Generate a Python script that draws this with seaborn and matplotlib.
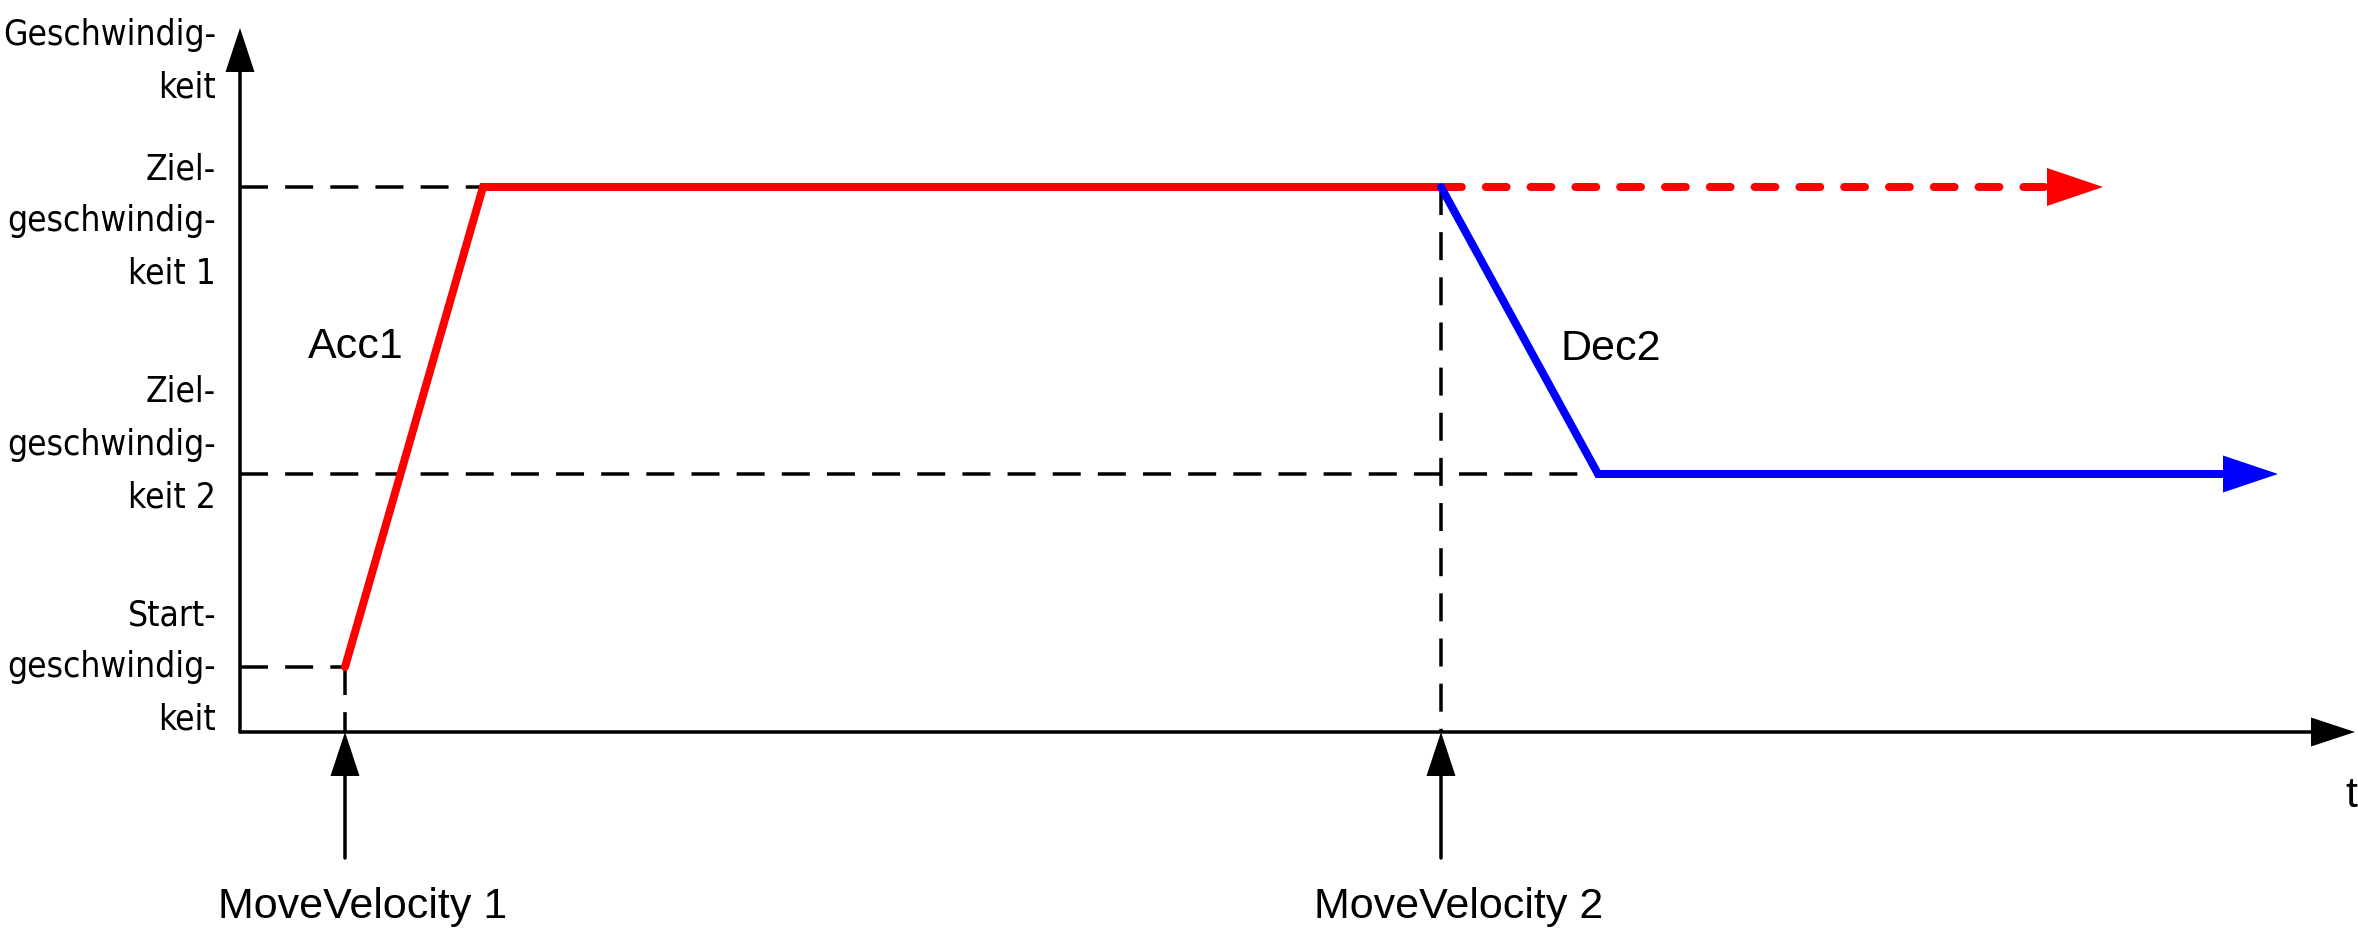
import matplotlib
matplotlib.use("Agg")
import matplotlib.pyplot as plt
import matplotlib.font_manager as fm
import seaborn as sns

# time points (t) and speed levels (v), 1 unit = 100 px
t_move1 = 1.05      # MoveVelocity 1
t_acc_end = 2.43    # target speed 1 reached
t_move2 = 12.01     # MoveVelocity 2
t_dec_end = 13.58   # target speed 2 reached
t_red_end = 18.63   # tip of dashed red arrow
t_blue_end = 20.38  # tip of blue arrow
t_axis_end = 21.15
v_start = 0.65
v_target1 = 5.45
v_target2 = 2.58
v_axis_end = 7.04

red_t = [t_move1, t_acc_end, t_move2]
red_v = [v_start, v_target1, v_target1]
blue_t = [t_move2, t_dec_end]
blue_v = [v_target1, v_target2]

level_labels = ["Geschwindig-\nkeit", "Ziel-\ngeschwindig-\nkeit 1",
                "Ziel-\ngeschwindig-\nkeit 2", "Start-\ngeschwindig-\nkeit"]
event_labels = ["MoveVelocity 1", "MoveVelocity 2"]
event_t = [t_move1, t_move2]
phase_labels = ["Acc1", "Dec2"]

# layout (in axis units)
label_first_baseline = [6.87, 5.53, 3.30, 1.07]
line_gap = 0.525

sns.set_theme(style="white")
plt.rcParams["font.family"] = ["Liberation Sans", "DejaVu Sans"]
plt.rcParams["text.color"] = "black"

# condensed face for the speed labels if one is installed
narrow_prop = None
for f in fm.fontManager.ttflist:
    if f.name == "Liberation Sans Narrow" and f.style == "normal" and f.weight in (400, "normal", "regular"):
        narrow_prop = fm.FontProperties(fname=f.fname)
        break
if narrow_prop is None:
    for f in fm.fontManager.ttflist:
        if f.stretch in ("condensed", "semi-condensed") and f.style == "normal" \
                and f.weight in (400, "normal", "regular") and "Mono" not in f.name \
                and f.name in ("Noto Sans", "Roboto", "Open Sans", "Inter", "DejaVu Sans"):
            narrow_prop = fm.FontProperties(fname=f.fname)
            break
if narrow_prop is None:
    narrow_prop = fm.FontProperties(family="Liberation Sans")

fig = plt.figure(figsize=(23.58, 9.33), dpi=100)
ax = fig.add_axes([0, 0, 1, 1])
ax.set_xlim(-2.40, 21.18)
ax.set_ylim(-2.01, 7.32)
ax.set_axis_off()

# pick a size so that "Geschwindig-" is about 213 px wide, as in the picture
probe = ax.text(0, 0, "Geschwindig-", fontproperties=narrow_prop, fontsize=30)
fig.canvas.draw()
w = probe.get_window_extent().width
probe.remove()
narrow_size = min(31, 30 * 213 / w)

px = 0.72  # one pixel in points
blk = "black"


def head(x_tip, y_tip, direction, length, width, color):
    if direction == "right":
        xs = [x_tip - length, x_tip - length, x_tip]
        ys = [y_tip - width / 2, y_tip + width / 2, y_tip]
    else:
        xs = [x_tip - width / 2, x_tip + width / 2, x_tip]
        ys = [y_tip - length, y_tip - length, y_tip]
    ax.fill(xs, ys, color=color, lw=0, zorder=6)


def dashed(xs, ys):
    ax.plot(xs, ys, color=blk, lw=3.5 * px, dashes=(8.0, 4.9),
            dash_capstyle="butt", zorder=2)


# axes with arrows
ax.plot([0, t_axis_end - 0.44], [0, 0], color=blk, lw=3.5 * px, zorder=3)
ax.plot([0, 0], [0, v_axis_end - 0.44], color=blk, lw=3.5 * px, zorder=3)
head(t_axis_end, 0, "right", 0.44, 0.29, blk)
head(0, v_axis_end, "up", 0.44, 0.29, blk)

# helper dashed lines
dashed([0, t_acc_end], [v_target1, v_target1])
dashed([0, t_dec_end], [v_target2, v_target2])
dashed([0, t_move1], [v_start, v_start])
dashed([t_move1, t_move1], [v_start, 0])
dashed([t_move2, t_move2], [v_target1, 0])

# command arrows from below
for t, lab in zip(event_t, event_labels):
    ax.plot([t, t], [-1.26, -0.44], color=blk, lw=3.5 * px, zorder=3,
            solid_capstyle="round")
    head(t, 0.0, "up", 0.44, 0.29, blk)
    ax.text(t - 1.27, -1.86, lab, fontsize=31, ha="left", va="baseline")

# speed profiles
sns.lineplot(x=red_t, y=red_v, ax=ax, color="#ff0000", sort=False,
             estimator=None, zorder=4)
red_line = ax.lines[-1]
red_line.set_linewidth(8 * px)
red_line.set_solid_joinstyle("miter")
ax.plot([t_move2, t_red_end - 0.56], [v_target1, v_target1], color="#ff0000",
        lw=8 * px, dashes=(2.6, 3.0), dash_capstyle="round", zorder=4)
head(t_red_end, v_target1, "right", 0.56, 0.38, "#ff0000")

sns.lineplot(x=blue_t + [t_blue_end - 0.55], y=blue_v + [v_target2], ax=ax,
             color="#0000ff", sort=False, estimator=None, zorder=5)
blue_line = ax.lines[-1]
blue_line.set_linewidth(8 * px)
blue_line.set_solid_joinstyle("miter")
head(t_blue_end, v_target2, "right", 0.55, 0.37, "#0000ff")

# speed level labels
for lab, y0 in zip(level_labels, label_first_baseline):
    for i, line in enumerate(lab.split("\n")):
        ax.text(-0.24, y0 - i * line_gap, line, fontproperties=narrow_prop,
                fontsize=narrow_size, ha="right", va="baseline")

ax.text(0.68, 3.74, phase_labels[0], fontsize=31, ha="left", va="baseline")
ax.text(13.20, 3.72, phase_labels[1], fontsize=31, ha="left", va="baseline")
ax.text(21.17, -0.75, "t", fontsize=31, ha="right", va="baseline")

fig.savefig("out.png", dpi=100)
